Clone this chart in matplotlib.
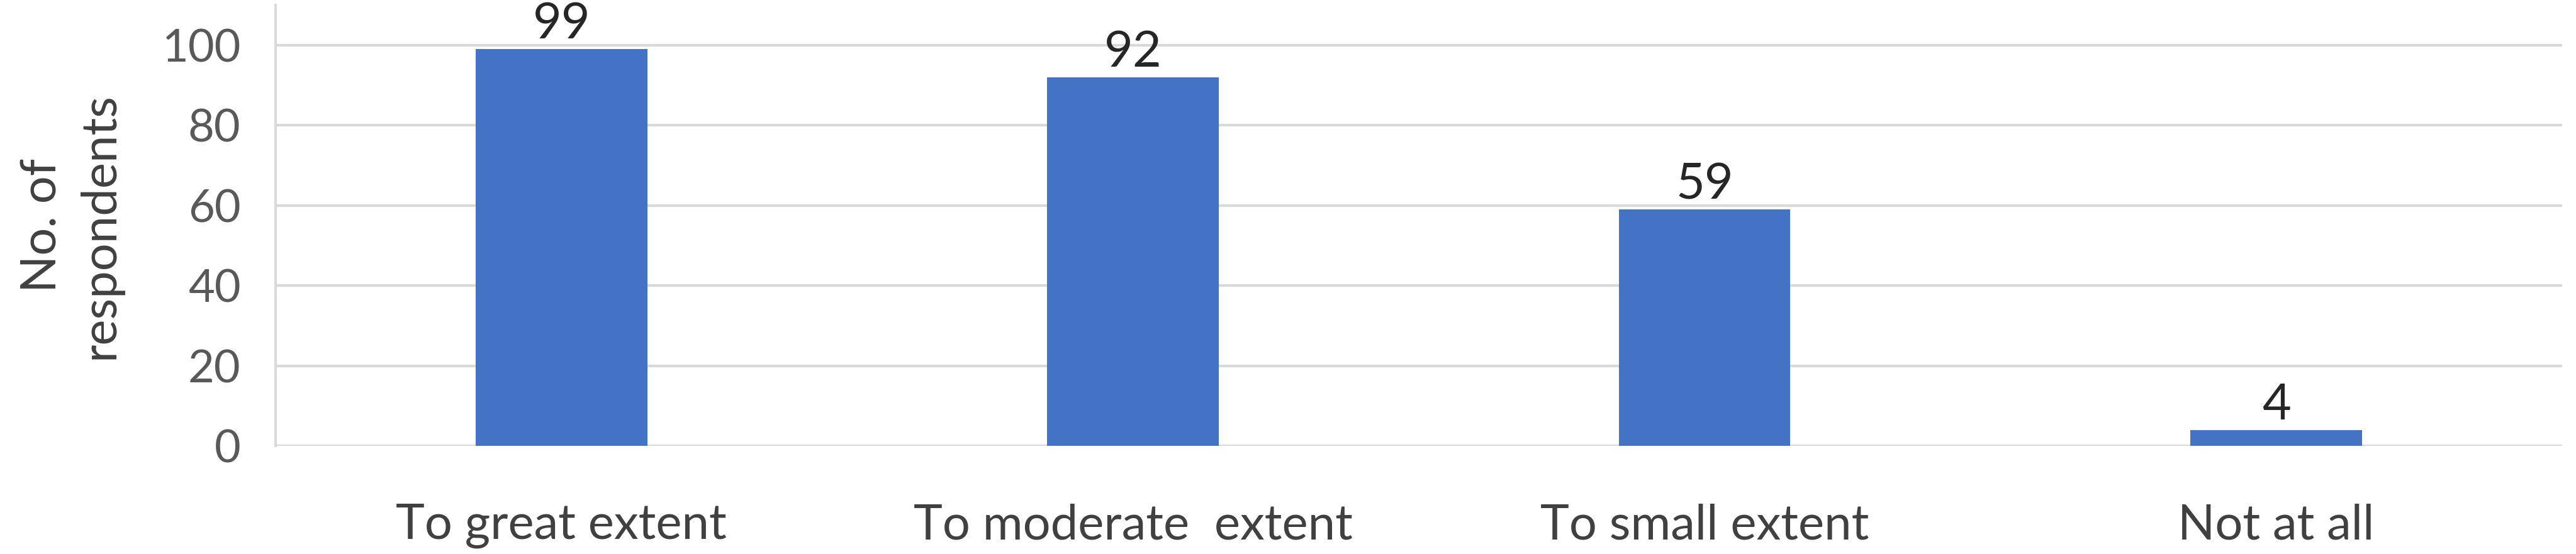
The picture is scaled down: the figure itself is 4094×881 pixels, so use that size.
import matplotlib
matplotlib.use("Agg")
import matplotlib.pyplot as plt

categories = ["To great extent", "To moderate  extent", "To small extent", "Not at all"]
respondents = [99, 92, 59, 4]
yticks = [0, 20, 40, 60, 80, 100]

plt.rcParams['font.family'] = ['Lato', 'DejaVu Sans']

fig = plt.figure(figsize=(40.94, 8.81), dpi=100)
ax = fig.add_axes([0.107, 0.195, 0.8876, 0.796])

xs = range(len(categories))
bars = ax.bar(xs, respondents, width=0.30, color="#4472C4", zorder=3)

for b, v in zip(bars, respondents):
    ax.annotate(str(v), (b.get_x() + b.get_width() / 2, v), xytext=(0, 2),
                textcoords="offset points", ha="center", va="bottom",
                fontsize=57, color="#262626")

ax.set_xlim(-0.5, len(categories) - 0.5)
ax.set_ylim(0, 110)
ax.set_yticks(yticks)
ax.set_xticks(list(xs))
ax.set_xticklabels(categories)
ax.grid(axis="y", color="#D9D9D9", linewidth=3, zorder=0)
ax.tick_params(axis="y", length=0, pad=40, labelsize=52, labelcolor="#595959")
ax.tick_params(axis="x", length=0, pad=66, labelsize=56, labelcolor="#404040")

for s in ["top", "right", "bottom"]:
    ax.spines[s].set_visible(False)
ax.spines["left"].set_color("#D9D9D9")
ax.spines["left"].set_linewidth(3)

ax.set_ylabel("No. of\nrespondents", fontsize=56, color="#404040", labelpad=45,
              linespacing=1.35)

fig.savefig("out.png", dpi=100, facecolor="white")
